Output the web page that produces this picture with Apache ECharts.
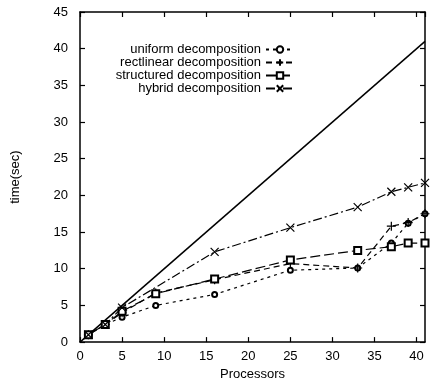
<!DOCTYPE html>
<html><head><meta charset="utf-8">
<script src="https://cdn.jsdelivr.net/npm/echarts@6/dist/echarts.min.js"></script>
<style>html,body{margin:0;padding:0;background:#fff}#c{width:430px;height:386px}</style>
</head><body><div id="c"></div>
<script>
const xTicks = [0,5,10,15,20,25,30,35,40];
const yTicks = [0,5,10,15,20,25,30,35,40,45];
const idealX = [0, 41];
const idealY = [0, 41];
const uniformX = [1,3,5,9,16,25,33,37,39,41];
const uniformY = [1.0,2.4,3.4,5.0,6.5,9.8,10.1,13.5,16.2,17.5];
const rectX = [1,3,5,9,16,25,33,37,39,41];
const rectY = [1.0,2.4,4.0,6.7,8.5,10.7,10.1,15.8,16.3,17.5];
const structX = [1,3,5,9,16,25,33,37,39,41];
const structY = [1.0,2.4,4.2,6.6,8.6,11.2,12.5,13.0,13.5,13.5];
const hybridX = [1,3,5,16,25,33,37,39,41];
const hybridY = [1.0,2.4,4.7,12.3,15.6,18.4,20.5,21.1,21.7];
const names = ['uniform decomposition','rectlinear decomposition','structured decomposition','hybrid decomposition'];

const pair = (xs, ys) => xs.map((x,i)=>[x, ys[i]]);
const FONT = 'Liberation Sans';
const plus = 'path://M0,5L10,5M5,0L5,10';
const cross = 'path://M0,0L10,10M0,10L10,0';

function mk(name, xs, ys, symbol, size, dash) {
  return {
    name, type:'line', data: pair(xs, ys), symbol, symbolSize: size,
    showAllSymbol: true, clip: false,
    lineStyle: {color:'#000', width:1.2, type: dash},
    itemStyle: {color:'#000', borderColor:'#000', borderWidth:1.2},
    emphasis: {disabled:true}, z: 3
  };
}

const chart = echarts.init(document.getElementById('c'), null, {renderer:'canvas'});
const axisCommon = {
  min: 0, interval: 5,
  axisLine: {show:true, onZero:false, lineStyle:{color:'#000', width:1.5}},
  axisTick: {show:true, inside:true, length:5, lineStyle:{color:'#000', width:1.2}},
  splitLine: {show:false}
};
chart.setOption({
  animation: false,
  backgroundColor: '#fff',
  textStyle: {fontFamily: FONT, color:'#000'},
  grid: {left: 80, right: 5, top: 12, bottom: 38, show:false},
  legend: {
    data: names, orient:'vertical', right: 130, top: 38, align:'right',
    itemWidth: 28, itemHeight: 8, itemGap: 0,
    textStyle: {fontFamily: FONT, fontSize: 13, color:'#000', padding:[0,0,0,0]},
    inactiveColor:'#000'
  },
  xAxis: [
    Object.assign({}, axisCommon, {type:'value', max: 41, position:'bottom',
      axisLabel: {show:true, fontSize:13, color:'#000', fontFamily:FONT, margin:8, showMaxLabel:false,
        formatter: v => xTicks.includes(v) ? String(v) : ''},
      name:'Processors', nameLocation:'middle', nameGap: 22,
      nameTextStyle:{fontSize:13, color:'#000', fontFamily:FONT}}),
    Object.assign({}, axisCommon, {type:'value', max: 41, position:'top', axisLabel:{show:false}})
  ],
  yAxis: [
    Object.assign({}, axisCommon, {type:'value', max: 45, position:'left',
      axisLabel: {show:true, fontSize:13, color:'#000', fontFamily:FONT, margin:12,
        formatter: v => yTicks.includes(v) ? String(v) : ''},
      name:'time(sec)', nameLocation:'middle', nameGap: 58, nameRotate: 90,
      nameTextStyle:{fontSize:13, color:'#000', fontFamily:FONT}}),
    Object.assign({}, axisCommon, {type:'value', max: 45, position:'right', axisLabel:{show:false}})
  ],
  series: [
    {name:'ideal', type:'line', data: pair(idealX, idealY), symbol:'none',
      lineStyle:{color:'#000', width:1.5}, emphasis:{disabled:true}, z:2},
    mk(names[0], uniformX, uniformY, 'emptyCircle', 5, [3,4]),
    mk(names[1], rectX, rectY, plus, 9, [6,4]),
    mk(names[2], structX, structY, 'emptyRect', 7, [10,4]),
    mk(names[3], hybridX, hybridY, cross, 8, [9,3,2,3])
  ]
});
</script></body></html>
